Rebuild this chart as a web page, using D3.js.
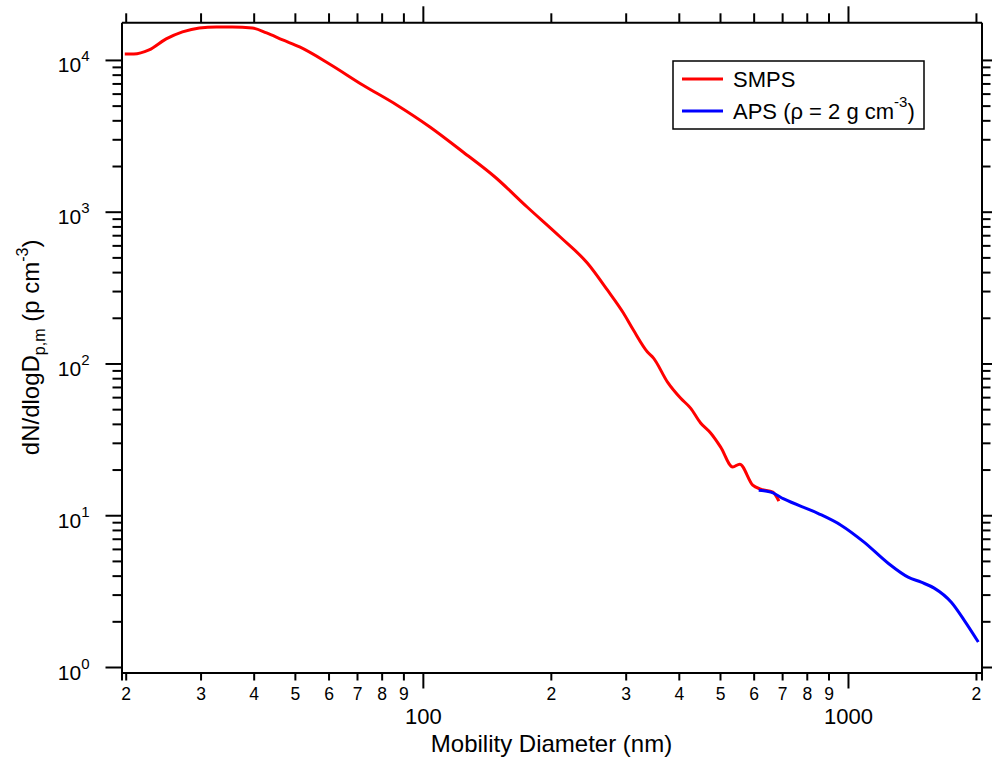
<!DOCTYPE html>
<html>
<head>
<meta charset="utf-8">
<script src="https://cdn.jsdelivr.net/npm/d3@7"></script>
<style>
  body { margin: 0; background: #fff; }
  text { font-family: 'Liberation Sans', Arial, sans-serif; fill: #000; }
</style>
</head>
<body>
<script>

// SMPS size distribution (nm, p cm-3)
var smpsDiameter = [19.9, 20.9, 22.7, 24.9, 27.2, 29.8, 32.7, 35.6, 39.7, 42.9, 46.8, 51.3,
  60.3, 72.2, 86.8, 103.9, 124.3, 147.8, 175.9, 210.5, 243.7, 271.6, 296.3, 312.8,
  337.6, 348.8, 376.3, 403.7, 426.3, 450.1, 475.2, 501.8, 535.6, 556.4, 597, 623.4,
  665.6, 687.7];
var smpsConc = [10950, 10950, 11640, 13750, 15300, 16260, 16500, 16500, 16260, 15060, 13550, 12180,
  9410, 6840, 5050, 3616, 2475, 1693, 1074, 681, 459, 305, 215, 166,
  119, 108.5, 75.4, 59.2, 50.8, 40.5, 34.8, 28.1, 20.8, 21.7, 15.8, 14.86,
  14.2, 12.4];

// APS, converted with rho = 2 g cm-3
var apsDiameter = [616.6, 658.4, 706.3, 849.6, 962.7, 1091, 1243, 1385, 1487, 1595, 1750, 1877, 2026];
var apsConc = [14.6, 14.2, 12.8, 10.3, 8.6, 6.65, 4.83, 3.91, 3.62, 3.31, 2.67, 2.03, 1.46];

var xTickValues = [20, 30, 40, 50, 60, 70, 80, 90, 100, 200, 300, 400, 500, 600, 700, 800, 900, 1000, 2000];
var xMajorTicks = [100, 1000];
var yMajorTicks = [1, 10, 100, 1000, 10000];
var yMinorMult = [2, 3, 4, 5, 6, 7, 8, 9];
var legendLabels = ['SMPS', 'APS'];

var width = 992,
    height = 759;

var margin = {top: 22.3, right: 10.5, bottom: 86.5, left: 121.5};
var plotW = width - margin.left - margin.right,
    plotH = height - margin.top - margin.bottom;

var svg = d3.select('body')
  .append('svg')
  .attr('width', width)
  .attr('height', height);

var g = svg.append('g')
  .attr('transform', 'translate(' + margin.left + ',' + margin.top + ')');

var x = d3.scaleLog()
  .domain([19.55, 2061])
  .range([0, plotW]);

var y = d3.scaleLog()
  .domain([0.92, 17700])
  .range([plotH, 0]);

var yTickValues = [];
yMajorTicks.forEach(function(m) {
  yTickValues.push(m);
  yMinorMult.forEach(function(k) {
    if (k * m <= y.domain()[1]) yTickValues.push(k * m);
  });
});

function isMajorX(d) { return xMajorTicks.indexOf(d) >= 0; }
function isMajorY(d) { return yMajorTicks.indexOf(d) >= 0; }

// bottom axis
var xAxis = d3.axisBottom(x)
  .tickValues(xTickValues)
  .tickSizeOuter(0)
  .tickSize(8)
  .tickFormat(function(d) {
    return isMajorX(d) ? d3.format('d')(d) : String(d).charAt(0);
  });

var gx = g.append('g')
  .attr('transform', 'translate(0,' + plotH + ')')
  .call(xAxis);

gx.selectAll('.tick line')
  .attr('stroke-width', 2)
  .attr('y2', function(d) { return isMajorX(d) ? 16 : 8; });

gx.selectAll('.tick text')
  .attr('dy', 0)
  .attr('y', function(d) { return isMajorX(d) ? 51 : 27; })
  .style('font-size', function(d) { return isMajorX(d) ? '22px' : '17.5px'; })
  .style('font-family', "'Liberation Sans', Arial, sans-serif");

// top axis, ticks only
var gxTop = g.append('g')
  .call(d3.axisTop(x).tickValues(xTickValues).tickSizeOuter(0).tickFormat(''));

gxTop.selectAll('.tick line')
  .attr('stroke-width', 2)
  .attr('y2', function(d) { return isMajorX(d) ? -16 : -9; });

// left axis
var yAxis = d3.axisLeft(y)
  .tickValues(yTickValues)
  .tickSizeOuter(0)
  .tickFormat('');

var gy = g.append('g').call(yAxis);

gy.selectAll('.tick line')
  .attr('stroke-width', 2)
  .attr('x2', function(d) { return isMajorY(d) ? -16 : -9; });

gy.selectAll('.tick')
  .filter(isMajorY)
  .append('text')
  .attr('x', -32)
  .attr('y', 12)
  .attr('text-anchor', 'end')
  .style('font-size', '21px')
  .each(function(d) {
    var t = d3.select(this);
    t.append('tspan').text('10');
    t.append('tspan')
      .attr('dy', -11)
      .style('font-size', '15px')
      .text(Math.round(Math.log10(d)));
  });

// right axis, ticks only
var gyRight = g.append('g')
  .attr('transform', 'translate(' + plotW + ',0)')
  .call(d3.axisRight(y).tickValues(yTickValues).tickSizeOuter(0).tickFormat(''));

gyRight.selectAll('.tick line')
  .attr('stroke-width', 2)
  .attr('x2', function(d) { return isMajorY(d) ? 16 : 9; });

g.selectAll('.domain')
  .attr('stroke-width', 2);

// curves
var line = d3.line()
  .curve(d3.curveMonotoneX)
  .x(function(d) { return x(d[0]); })
  .y(function(d) { return y(d[1]); });

var smps = d3.zip(smpsDiameter, smpsConc);
var aps = d3.zip(apsDiameter, apsConc);

g.append('path')
  .datum(smps)
  .attr('fill', 'none')
  .attr('stroke', '#ff0000')
  .attr('stroke-width', 3)
  .attr('stroke-linejoin', 'round')
  .attr('d', line);

g.append('path')
  .datum(aps)
  .attr('fill', 'none')
  .attr('stroke', '#0000ff')
  .attr('stroke-width', 3)
  .attr('stroke-linejoin', 'round')
  .attr('d', line);

// axis titles
svg.append('text')
  .attr('x', margin.left + plotW / 2)
  .attr('y', 752)
  .attr('text-anchor', 'middle')
  .style('font-size', '24px')
  .text('Mobility Diameter (nm)');

var yTitle = svg.append('text')
  .attr('transform', 'translate(39,' + (margin.top + plotH / 2) + ') rotate(-90)')
  .attr('text-anchor', 'middle')
  .style('font-size', '24px');

yTitle.append('tspan').text('dN/dlogD');
yTitle.append('tspan').attr('dy', 6).style('font-size', '16px').text('p,m');
yTitle.append('tspan').attr('dy', -6).text(' (p cm');
yTitle.append('tspan').attr('dy', -11).style('font-size', '16px').text('-3');
yTitle.append('tspan').attr('dy', 11).text(')');

// legend
var legend = svg.append('g')
  .attr('transform', 'translate(673,61)');

legend.append('rect')
  .attr('width', 251)
  .attr('height', 68)
  .attr('fill', '#fff')
  .attr('stroke', '#000')
  .attr('stroke-width', 1.5);

var legendColors = ['#ff0000', '#0000ff'];

legendLabels.forEach(function(label, i) {
  var ly = 18 + i * 32;
  legend.append('line')
    .attr('x1', 9)
    .attr('x2', 50)
    .attr('y1', ly)
    .attr('y2', ly)
    .attr('stroke', legendColors[i])
    .attr('stroke-width', 3);

  var t = legend.append('text')
    .attr('x', 60)
    .attr('y', ly + 8)
    .style('font-size', '22px')
    .text(label);

  if (i === 1) {
    t.append('tspan').text(' (\u03c1 = 2 g cm');
    t.append('tspan').attr('dy', -12).style('font-size', '15px').text('-3');
    t.append('tspan').attr('dy', 12).text(')');
  }
});

</script>
</body>
</html>
